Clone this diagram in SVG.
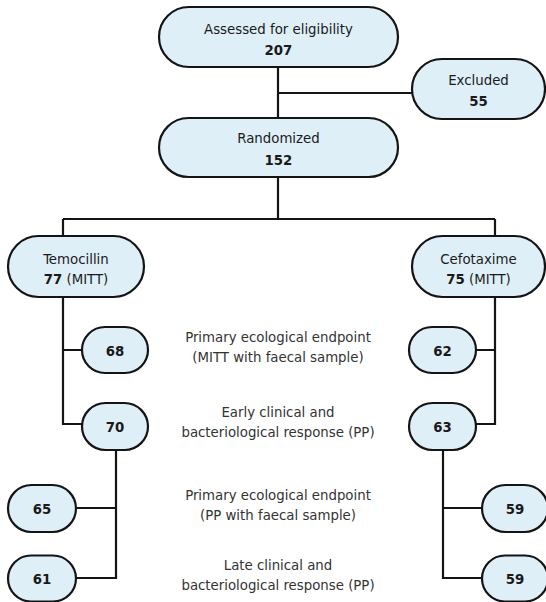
<svg xmlns="http://www.w3.org/2000/svg" width="546" height="602" viewBox="0 0 546 602">
<style>
.box{fill:#dfeff7;stroke:#141414;stroke-width:2.2}
.ln{fill:none;stroke:#141414;stroke-width:2.2}
text{font-family:"DejaVu Sans Condensed","DejaVu Sans",Verdana,sans-serif;font-size:14.8px;fill:#1a1a1a;text-anchor:middle}
.b{font-weight:bold}
.lab{fill:#333}
</style>
<rect width="546" height="602" fill="#fff"/>
<g id="connectors">
<path class="ln" d="M278 67V118M278 93H412M278 177V219M63 219H495M63 219V236M495 219V236"/>
<path class="ln" d="M63 297V424H82M63 350H82M495 297V424H476M495 350H476"/>
<path class="ln" d="M116 450V578H76M116 508H76M443 450V578H482M443 508H482"/>
</g>
<g id="assessed"><rect class="box" x="159" y="7" width="239" height="60" rx="30"/><text x="278.5" y="34">Assessed for eligibility</text><text class="b" x="278.5" y="55">207</text></g>
<g id="excluded"><rect class="box" x="412" y="59" width="133" height="60" rx="30"/><text x="478.5" y="85">Excluded</text><text class="b" x="478.5" y="106">55</text></g>
<g id="randomized"><rect class="box" x="159" y="118" width="239" height="59" rx="29.5"/><text x="278.5" y="143">Randomized</text><text class="b" x="278.5" y="165">152</text></g>
<g id="temocillin"><rect class="box" x="8" y="236" width="136" height="61" rx="30.5"/><text x="76" y="264">Temocillin</text><text x="76" y="284"><tspan class="b">77</tspan> (MITT)</text></g>
<g id="cefotaxime"><rect class="box" x="412" y="236" width="133" height="61" rx="30.5"/><text x="478.5" y="264">Cefotaxime</text><text x="478.5" y="284"><tspan class="b">75</tspan> (MITT)</text></g>
<g id="n68"><rect class="box" x="82" y="327" width="66" height="46" rx="23"/><text class="b" x="115" y="355.5">68</text></g>
<g id="n70"><rect class="box" x="82" y="403" width="66" height="47" rx="23.5"/><text class="b" x="115" y="431.5">70</text></g>
<g id="n62"><rect class="box" x="409" y="327" width="67" height="46" rx="23"/><text class="b" x="442.5" y="355.5">62</text></g>
<g id="n63"><rect class="box" x="409" y="403" width="67" height="47" rx="23.5"/><text class="b" x="442.5" y="431.5">63</text></g>
<g id="n65"><rect class="box" x="8" y="485" width="68" height="47" rx="23.5"/><text class="b" x="42" y="513.5">65</text></g>
<g id="n61"><rect class="box" x="8" y="555.5" width="68" height="46" rx="23"/><text class="b" x="42" y="583.5">61</text></g>
<g id="n59a"><rect class="box" x="482" y="485" width="66" height="47" rx="23.5"/><text class="b" x="515" y="513.5">59</text></g>
<g id="n59b"><rect class="box" x="482" y="555.5" width="66" height="46" rx="23"/><text class="b" x="515" y="583.5">59</text></g>
<g id="labels">
<text class="lab" x="278" y="342">Primary ecological endpoint</text>
<text class="lab" x="278" y="362">(MITT with faecal sample)</text>
<text class="lab" x="278" y="417">Early clinical and</text>
<text class="lab" x="278" y="437">bacteriological response (PP)</text>
<text class="lab" x="278" y="500">Primary ecological endpoint</text>
<text class="lab" x="278" y="520">(PP with faecal sample)</text>
<text class="lab" x="278" y="570">Late clinical and</text>
<text class="lab" x="278" y="590">bacteriological response (PP)</text>
</g>
</svg>
